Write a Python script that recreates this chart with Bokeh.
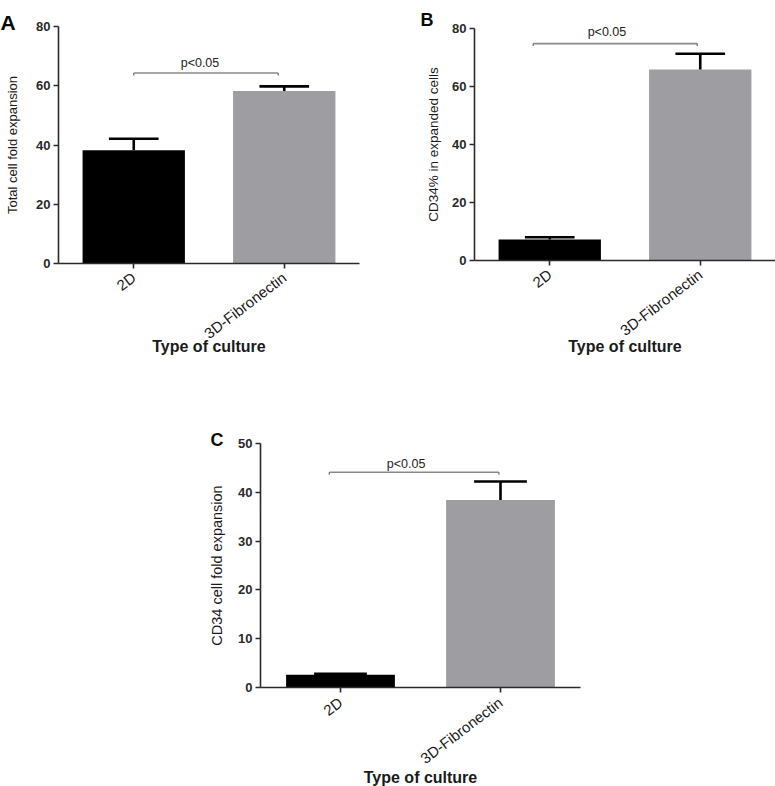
from bokeh.plotting import figure
from bokeh.models import Range1d, FixedTicker, Label
from bokeh.core.properties import value
from bokeh.layouts import column, row
from bokeh.embed import file_html
from bokeh.resources import INLINE

# ---------------- data ----------------
categories = ["2D", "3D-Fibronectin"]
bar_colors = ["#000000", "#9e9ea2"]

total_fold_mean = [38.2, 58.2]
total_fold_sem = [3.9, 1.6]

cd34_pct_mean = [7.2, 65.9]
cd34_pct_sem = [0.8, 5.4]

cd34_fold_mean = [2.6, 38.4]
cd34_fold_sem = [0.2, 3.8]

y_ticks_A = [0, 20, 40, 60, 80]
y_ticks_B = [0, 20, 40, 60, 80]
y_ticks_C = [0, 10, 20, 30, 40, 50]

y_label_A = "Total cell fold expansion"
y_label_B = "CD34% in expanded cells"
y_label_C = "CD34 cell fold expansion"
x_title = "Type of culture"
sig_text = "p<0.05"

FONT = "Liberation Sans"


def panel(means, sems, yticks, ylabel, letter, width, height,
          ax_left, ax_top, ax_w, ax_h,
          sig_y, sig_x0, sig_x1, sig_tx, sig_ty,
          letter_xy, letter_size, ylab_size, ylab_standoff, xlab_size,
          xlab_drop, title_y):
    """ax_left/ax_top: canvas pixel of the axes corner (x=0.5 / y=max);
    ax_w/ax_h: pixel length of the x axis (0.5..2.5) and y axis (0..max)."""
    ymax = yticks[-1]
    ppx = ax_w / 2.0           # pixels per category unit
    ppy = ax_h / ymax          # pixels per y unit
    x0 = 0.5 - ax_left / ppx
    x1 = 0.5 + (width - ax_left) / ppx
    y1 = ymax + ax_top / ppy
    y0 = -(height - ax_top - ax_h) / ppy

    p = figure(width=width, height=height, output_backend="svg",
               toolbar_location=None, tools="",
               x_range=Range1d(x0, x1), y_range=Range1d(y0, y1),
               min_border_left=0, min_border_right=0,
               min_border_top=0, min_border_bottom=0)
    p.outline_line_color = None
    p.xgrid.visible = False
    p.ygrid.visible = False
    p.background_fill_color = "white"
    p.border_fill_color = "white"

    xs = [i + 1 for i in range(len(categories))]
    tops = [m + s for m, s in zip(means, sems)]
    p.vbar(x=xs, top=means, bottom=0, width=0.68, fill_color=bar_colors,
           line_color=None)
    # error bars (upper SEM)
    p.segment(x0=xs, y0=means, x1=xs, y1=tops, line_color="black",
              line_width=2.6)
    cap = 0.165
    p.segment(x0=[x - cap for x in xs], y0=tops, x1=[x + cap for x in xs],
              y1=tops, line_color="black", line_width=2.6)

    # significance bracket
    tick_len = 2.5 / ppy
    p.segment(x0=[sig_x0], y0=[sig_y], x1=[sig_x1], y1=[sig_y],
              line_color="#8a8a8a", line_width=1.6)
    p.segment(x0=[sig_x0, sig_x1], y0=[sig_y, sig_y],
              x1=[sig_x0, sig_x1], y1=[sig_y - tick_len, sig_y - tick_len],
              line_color="#6a6a6a", line_width=1.2)
    p.add_layout(Label(x=sig_tx, y=sig_ty, text=sig_text,
                       text_font=FONT, text_font_size="12.5px",
                       text_color="#222222", text_align="center",
                       text_baseline="middle"))

    # category labels, rotated, ending under each tick
    p.text(x=xs, y=[-xlab_drop / ppy] * len(xs), text=categories,
           angle=0.65, text_align="right", text_baseline="middle",
           text_font=value(FONT), text_font_size=xlab_size,
           text_color="#1a1a1a")

    # panel letter
    p.add_layout(Label(x=letter_xy[0], y=letter_xy[1], x_units="canvas",
                       y_units="canvas", text=letter, text_font=FONT,
                       text_font_size=letter_size, text_font_style="bold",
                       text_color="#0a0a0a", text_align="left",
                       text_baseline="middle"))

    # x title
    p.add_layout(Label(x=ax_left + ax_w / 2, y=title_y, x_units="canvas",
                       y_units="canvas", text=x_title, text_font=FONT,
                       text_font_size="16px", text_font_style="bold",
                       text_color="#1a1a1a", text_align="center",
                       text_baseline="middle"))

    # axes (drawn at fixed data locations inside the full-canvas frame)
    p.yaxis.fixed_location = 0.5
    p.yaxis.bounds = (0, ymax)
    p.xaxis.fixed_location = 0
    p.xaxis.bounds = (0.5, min(2.5, x1))
    for ax in (p.xaxis[0], p.yaxis[0]):
        ax.axis_line_color = "#2a2a2a"
        ax.axis_line_width = 1.6
        ax.major_tick_line_color = "#2a2a2a"
        ax.major_tick_line_width = 1.6
        ax.major_tick_out = 5
        ax.major_tick_in = 0
        ax.minor_tick_line_color = None

    p.yaxis.ticker = FixedTicker(ticks=yticks)
    p.yaxis.major_label_text_font = FONT
    p.yaxis.major_label_text_font_style = "bold"
    p.yaxis.major_label_text_font_size = "13px"
    p.yaxis.major_label_text_color = "#2a2a2a"
    p.yaxis.major_label_standoff = 3
    p.yaxis.axis_label = ylabel
    p.yaxis.axis_label_text_font = FONT
    p.yaxis.axis_label_text_font_style = "normal"
    p.yaxis.axis_label_text_font_size = ylab_size
    p.yaxis.axis_label_text_color = "#1a1a1a"
    p.yaxis.axis_label_standoff = ylab_standoff

    p.xaxis.ticker = FixedTicker(ticks=xs)
    p.xaxis.major_label_text_color = None
    return p


# row 1: A (418 wide) + B (357 wide), height 370
pA = panel(total_fold_mean, total_fold_sem, y_ticks_A, y_label_A, "A",
           width=418, height=370, ax_left=58, ax_top=26, ax_w=301, ax_h=237,
           sig_y=64.3, sig_x0=1.0, sig_x1=1.96, sig_tx=1.44, sig_ty=67.6,
           letter_xy=(0, 22), letter_size="21px", ylab_size="13px",
           ylab_standoff=13, xlab_size="15px", xlab_drop=12, title_y=346)

pB = panel(cd34_pct_mean, cd34_pct_sem, y_ticks_B, y_label_B, "B",
           width=357, height=370, ax_left=56, ax_top=28, ax_w=301, ax_h=232,
           sig_y=74.8, sig_x0=0.89, sig_x1=1.98, sig_tx=1.38, sig_ty=78.7,
           letter_xy=(2, 19), letter_size="18px", ylab_size="13.5px",
           ylab_standoff=8, xlab_size="15px", xlab_drop=12, title_y=346)

# row 2: C, starts at y=370
pC = panel(cd34_fold_mean, cd34_fold_sem, y_ticks_C, y_label_C, "C",
           width=680, height=416, ax_left=260, ax_top=73, ax_w=320, ax_h=244,
           sig_y=44.1, sig_x0=0.93, sig_x1=1.99, sig_tx=1.41, sig_ty=45.8,
           letter_xy=(210, 69), letter_size="18px", ylab_size="14.5px",
           ylab_standoff=10, xlab_size="15px", xlab_drop=13, title_y=407)

layout = column(row(pA, pB), pC)

open("out.html", "w").write(file_html(layout, INLINE))
